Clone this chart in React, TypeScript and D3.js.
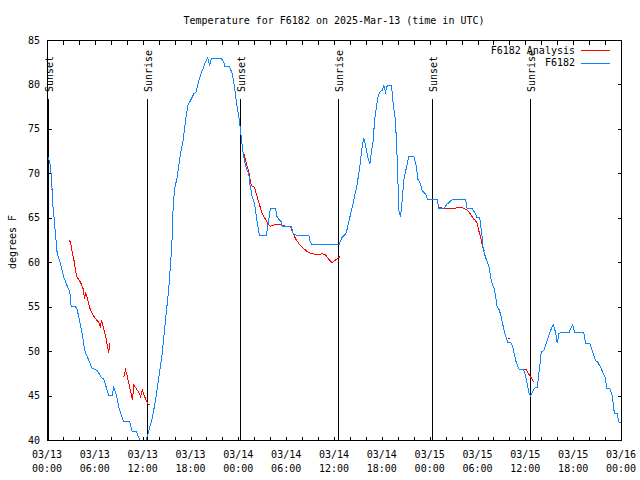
import React from "react";
import * as d3 from "d3";

const W = 640;
const H = 480;
const START = Date.UTC(2025, 2, 13);
const HOUR = 3600e3;

const titleText = "Temperature for F6182 on 2025-Mar-13 (time in UTC)";
const yLabel = "degrees F";
const yTicks = [40, 45, 50, 55, 60, 65, 70, 75, 80, 85];
const seriesNames = ["F6182 Analysis", "F6182"];
const seriesColors = ["#ff0000", "#0a84ff"];

// hours since 2025-03-13 00:00 UTC
const blueHours = [
  0.04, 0.29, 0.46, 0.59, 0.63, 0.79, 0.92, 1.22, 1.63, 2.04, 2.55, 2.8, 2.97, 3.64, 3.93, 4.35, 4.68,
  5.18, 5.61, 6.23, 6.74, 7.06, 7.4, 7.69, 8.12, 8.32, 8.66, 8.94, 9.37, 9.57, 10.32, 10.62, 11.16,
  11.58, 12.04, 12.58, 12.83, 13.13, 13.55, 13.96, 14.39, 14.8, 15.22, 15.6, 15.72, 15.93, 16.27,
  16.68, 17.02, 17.31, 17.6, 17.94, 18.35, 18.65, 18.98, 19.41, 19.82, 20.11, 20.32, 20.57, 21.79,
  22.11, 22.24, 22.83, 23.17, 23.46, 23.71, 24.0, 24.21, 24.34, 24.55, 24.84, 25.05, 25.25, 25.38,
  25.68, 25.97, 26.22, 26.5, 26.59, 27.46, 27.63, 27.97, 28.6, 28.81, 29.31, 29.44, 30.57, 30.82,
  31.23, 32.78, 32.9, 33.2, 36.54, 36.97, 37.38, 37.59, 37.92, 38.22, 38.51, 38.85, 39.17, 39.35,
  39.6, 39.68, 39.89, 40.18, 40.43, 40.6, 40.86, 41.02, 41.23, 41.43, 41.68, 41.98, 42.19, 42.4,
  42.61, 43.15, 43.36, 43.65, 43.87, 44.07, 44.28, 44.49, 44.69, 45.03, 45.32, 45.94, 46.29, 46.45,
  46.79, 47.0, 47.42, 47.7, 48.88, 49.08, 49.71, 50.13, 50.76, 52.43, 52.64, 53.27, 53.69, 53.9,
  54.22, 54.31, 54.52, 54.65, 54.81, 55.15, 55.44, 55.57, 55.78, 55.98, 56.2, 56.41, 56.61, 56.82,
  57.04, 57.24, 57.45, 57.74, 58.17, 58.42, 58.58, 58.79, 59.12, 59.74, 59.96, 60.17, 60.37, 60.59,
  60.8, 61.09, 61.43, 61.63, 61.84, 61.93, 62.25, 62.59, 62.88, 63.18, 63.43, 63.72, 63.94, 64.14,
  64.35, 65.39, 65.69, 65.89, 66.11, 67.27, 67.49, 68.02, 68.33, 68.74, 69.03, 69.37, 69.7, 69.99,
  70.12, 70.54, 70.84, 71.04, 71.17, 71.46, 71.67, 71.97,
];
const blueTemps = [
  72, 71.3, 70, 68.1, 66.7, 65.5, 64, 61, 59.9, 58.4, 57.2, 56.7, 55.1, 55, 53.9, 52, 50.1,
  49, 48.1, 47.9, 47.1, 46.9, 45.9, 45.1, 45.1, 46, 45.1, 43.75, 42.6, 42.1, 42.1, 41, 41,
  40, 39.2, 40.6, 41.5, 42.5, 44.5, 47.1, 49.8, 53.5, 57.2, 62, 65.5, 68.3, 69.6,
  72.3, 73.75, 76, 77.7, 78.25, 79, 79.2, 80.5, 81.6, 82.6, 83.05, 82.2, 83, 83,
  82.6, 82.1, 82.1, 81.25, 79.75, 77.9, 76.4, 74.9, 73.75, 72.25, 70.9, 70.4, 70, 68.9,
  67.4, 66.6, 65.1, 63.4, 63.1, 63.1, 64.2, 66.1, 66.1, 65.1, 64.6, 64.1, 64.1, 63.3,
  63.1, 63.1, 62.5, 62, 62, 62.9, 63.2, 63.8, 65.1, 66.25, 67.4, 68.9, 70.75, 72.25,
  73.75, 74.05, 73.2, 71.9, 71.1, 72.25, 73.75, 76, 77.3, 78.6, 79.2, 79.4, 79.9, 79.2,
  79.9, 79.9, 77.9, 76, 71.5, 65.9, 65.1, 67, 69.25, 70.75, 72, 72, 70.75, 69.4,
  68.9, 68.1, 67.75, 67.1, 67.1, 66.1, 66.1, 66.6, 67.1, 67.1, 66.1, 66.1, 65.5, 65.05,
  65.05, 64.4, 62.9, 61.55, 61, 60.1, 59.4, 58.4, 57.6, 57.25, 56.3, 55, 54.8, 54.25,
  53.3, 52.55, 51.8, 51.05, 50.95, 50.3, 49.6, 48.8, 48.05, 47.95, 47.3, 46.4, 45.4, 45.05,
  45.4, 45.9, 45.95, 47.5, 49, 49.95, 50.1, 51.05, 51.8, 52.55, 53.05, 52.2, 50.95, 52,
  52.1, 52.1, 52.7, 53.05, 52.1, 52.1, 50.95, 50.95, 50.1, 49, 48.8, 48.25, 47.6, 47.05,
  45.9, 45.8, 45.05, 43.45, 43, 43, 42.1, 41.95,
];

// null separates the gaps in the analysis series
const redHours = [
  0.46, 0.63, null,
  2.67, 2.89, 3.1, 3.3, 3.64, 3.93, 4.14, 4.48, 4.64, 4.77, 4.98, 5.31, 5.61, 6.02, 6.43, 6.65, 6.77,
  6.99, 7.28, 7.49, 7.69, 7.81, null,
  9.57, 9.78, 10.0, 10.2, 10.5, 10.66, 10.83, 11.16, 11.45, 11.67, 11.88, 12.17, 12.51, 12.58, 12.83, null,
  24.62, 24.84, 25.25, 25.55, 25.97, 26.3, 26.63, 26.93, 27.34, 27.63, 27.97, 28.6, 29.23, 30.48, 31.11,
  31.74, 32.58, 32.99, 33.83, 34.46, 34.87, 35.29, 35.71, 36.13, 36.54, 36.75, null,
  48.96, 49.21, 49.92, 50.97, 51.72, 52.02, 52.64, 53.06, 53.4, 53.69, 53.9, 54.1, 54.31, 54.52, 54.72, 54.84, null,
  57.74, 57.99, null,
  59.74, 60.08, 60.25, 60.5, 60.8, 61.0,
];
const redTemps = [
  68.2, 68.2, null,
  62.6, 62.3, 61.2, 60.4, 58.45, 58.1, 57.8, 57.05, 55.9, 56.7, 56.1, 54.9, 54.25, 53.7, 53.3, 52.8, 53.5,
  52.8, 51.8, 50.7, 49.9, 51, null,
  47.1, 47.95, 47.3, 46.4, 45.25, 44.6, 46.2, 45.8, 45.4, 44.95, 45.7, 44.95, 44.3, 44.1, 44, null,
  72.4, 71.5, 70.2, 68.7, 68.5, 67.4, 66.4, 65.5, 64.9, 64.4, 64.1, 64.3, 64.25, 64, 62.7,
  61.9, 61.25, 61.05, 60.9, 61, 60.9, 60.4, 60, 60.3, 60.6, 60.7, null,
  66.3, 66.2, 66.1, 66.1, 66.25, 66.2, 65.9, 65.5, 64.95, 64.75, 64.4, 63.6, 62.9, 62.1, 61.4, 61.3, null,
  51.45, 51.45, null,
  48.05, 47.95, 47.6, 47.3, 46.9, 46.55,
];

const eventHours = [0.16, 12.58, 24.25, 36.54, 48.33, 60.63];
const eventLabels = ["Sunset", "Sunrise", "Sunset", "Sunrise", "Sunset", "Sunrise"];

const FONT = "'DejaVu Sans Mono', monospace";
const FS = 10;

const toDate = (h: number) => new Date(START + h * HOUR);

export default function App() {
  const x = d3.scaleUtc().domain([toDate(0), toDate(72)]).range([47, 621]);
  const y = d3.scaleLinear().domain([40, 85]).range([440, 40]);

  const bluePts = blueHours.map((h, i) => [toDate(h), blueTemps[i]] as [Date, number]);
  const redPts = redHours.map((h, i) =>
    h == null ? null : ([toDate(h), redTemps[i] as number] as [Date, number])
  );

  const line = d3
    .line<[Date, number] | null>()
    .defined((d) => d != null)
    .x((d) => x((d as [Date, number])[0]) + 0.5)
    .y((d) => y((d as [Date, number])[1]) + 0.5);

  const minorTicks = x.ticks(d3.utcHour.every(2) as any);
  const labelTicks = x.ticks(d3.utcHour.every(6) as any);
  const fmtDay = d3.utcFormat("%m/%d");
  const fmtTime = d3.utcFormat("%H:%M");

  const L = 47.5, R = 621.5, T = 40.5, B = 440.5;
  const tl = 4;
  const plotCenter = (x.range()[0] + x.range()[1]) / 2;

  return (
    <svg
      width={W}
      height={H}
      style={{ position: "absolute", left: 0, top: 0, background: "#fff" }}
      fontFamily={FONT}
      fontSize={FS}
    >
      <rect x={0} y={0} width={W} height={H} fill="#fff" />
      <defs>
        <clipPath id="plotclip">
          <rect x={47} y={40} width={575} height={401} />
        </clipPath>
      </defs>

      <text x={plotCenter} y={20} textAnchor="middle" dominantBaseline="central">
        {titleText}
      </text>

      {/* ticks */}
      <g stroke="#000" shapeRendering="crispEdges">
        {yTicks.map((v) => (
          <g key={"yt" + v}>
            <line x1={L} x2={L + tl} y1={y(v) + 0.5} y2={y(v) + 0.5} />
            <line x1={R} x2={R - tl} y1={y(v) + 0.5} y2={y(v) + 0.5} />
          </g>
        ))}
        {minorTicks.map((t) => (
          <g key={"xt" + t.getTime()}>
            <line x1={x(t) + 0.5} x2={x(t) + 0.5} y1={B} y2={B - tl} />
            <line x1={x(t) + 0.5} x2={x(t) + 0.5} y1={T} y2={T + tl} />
          </g>
        ))}
      </g>

      {yTicks.map((v) => (
        <text key={"yl" + v} x={40} y={y(v)} textAnchor="end" dominantBaseline="central">
          {v}
        </text>
      ))}
      {labelTicks.map((t) => (
        <g key={"xl" + t.getTime()}>
          <text x={x(t)} y={454} textAnchor="middle" dominantBaseline="central">
            {fmtDay(t)}
          </text>
          <text x={x(t)} y={468} textAnchor="middle" dominantBaseline="central">
            {fmtTime(t)}
          </text>
        </g>
      ))}

      <text
        transform={`translate(12,242) rotate(-90)`}
        textAnchor="middle"
        dominantBaseline="central"
      >
        {yLabel}
      </text>

      {/* sunrise / sunset markers */}
      {eventHours.map((h, i) => {
        const ex = Math.round(x(toDate(h)));
        return (
          <g key={"ev" + i}>
            <line
              x1={ex + 0.5}
              x2={ex + 0.5}
              y1={99}
              y2={440}
              stroke="#000"
              shapeRendering="crispEdges"
            />
            <text
              transform={`translate(${ex + 1.5},92) rotate(-90)`}
              textAnchor="start"
              dominantBaseline="central"
            >
              {eventLabels[i]}
            </text>
          </g>
        );
      })}

      <g clipPath="url(#plotclip)" fill="none" strokeWidth={1} shapeRendering="crispEdges">
        <path d={line(redPts) || ""} stroke={seriesColors[0]} />
        <path d={line(bluePts) || ""} stroke={seriesColors[1]} />
      </g>

      {/* frame */}
      <rect
        x={L}
        y={T}
        width={R - L}
        height={B - T}
        fill="none"
        stroke="#000"
        shapeRendering="crispEdges"
      />

      {/* legend */}
      {seriesNames.map((n, i) => (
        <g key={"lg" + i}>
          <text x={575} y={50 + i * 12.7} textAnchor="end" dominantBaseline="central">
            {n}
          </text>
          <line
            x1={581}
            x2={610}
            y1={50.5 + Math.round(i * 12.7)}
            y2={50.5 + Math.round(i * 12.7)}
            stroke={seriesColors[i]}
            shapeRendering="crispEdges"
          />
        </g>
      ))}
    </svg>
  );
}
